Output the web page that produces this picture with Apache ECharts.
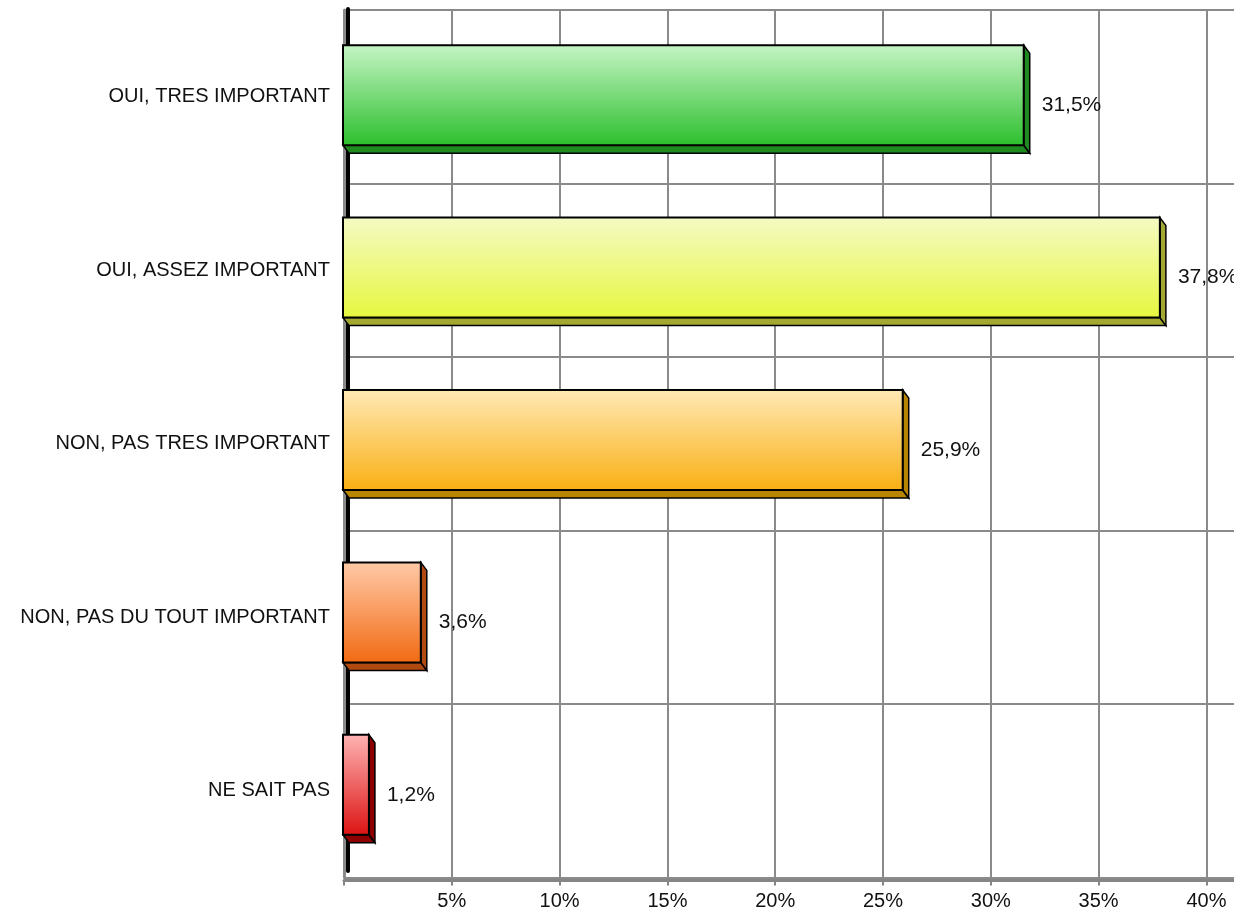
<!DOCTYPE html>
<html>
<head>
<meta charset="utf-8">
<script src="https://cdn.jsdelivr.net/npm/echarts@6/dist/echarts.min.js"></script>
<style>
html,body{margin:0;padding:0;background:#fff;}
#chart{width:1234px;height:916px;}
</style>
</head>
<body>
<div id="chart"></div>
<script>
const categories = ['OUI, TRES IMPORTANT', 'OUI, ASSEZ IMPORTANT', 'NON, PAS TRES IMPORTANT', 'NON, PAS DU TOUT IMPORTANT', 'NE SAIT PAS'];
const values = [31.5, 37.8, 25.9, 3.6, 1.2];
const tickStep = 5;

const frontTop = ['#c6f5c6', '#f5fac4', '#ffe9b6', '#ffcaa8', '#ffb4b4'];
const frontBottom = ['#2cbf2c', '#e6f73e', '#f9af12', '#f26a12', '#dc1212'];
const sideColors = ['#1f8a1f', '#a2a832', '#b88500', '#b04a10', '#8e0000'];

const FONT = 'Liberation Sans, Arial, sans-serif';
const chart = echarts.init(document.getElementById('chart'), null, {renderer: 'canvas'});

const fmt = v => v.toFixed(1).replace('.', ',') + '%';

const option = {
  animation: false,
  backgroundColor: '#ffffff',
  grid: [
    {left: 344, top: 10, width: 898, bottom: 38.5, containLabel: false, outerBoundsMode: 'none'},
    {left: 343, top: 9, width: 891, bottom: 45, containLabel: false, outerBoundsMode: 'none'}
  ],
  xAxis: [
    {
      gridIndex: 0, type: 'value', min: 0, max: 41.65, interval: tickStep,
      offset: 3,
      axisLine: {show: true, lineStyle: {color: '#858585', width: 3}},
      axisTick: {show: true, length: 5, lineStyle: {color: '#858585', width: 2}},
      splitLine: {show: true, lineStyle: {color: '#8a8a8a', width: 2}},
      axisLabel: {
        margin: 11, color: '#111', fontSize: 20, fontFamily: FONT,
        showMaxLabel: false,
        formatter: v => (v === 0 || Math.abs(v % tickStep) > 1e-6) ? '' : v + '%'
      }
    },
    {
      gridIndex: 1, type: 'value', min: 0, max: 41.23, show: false
    }
  ],
  yAxis: [
    {
      gridIndex: 0, type: 'category', data: categories, inverse: true,
      axisLine: {show: true, lineStyle: {color: '#8a8a8a', width: 3}},
      axisTick: {show: false},
      splitLine: {show: true, lineStyle: {color: '#8a8a8a', width: 2}},
      axisLabel: {margin: 14, color: '#111', fontSize: 20, fontFamily: FONT}
    },
    {
      gridIndex: 1, type: 'category', data: categories, inverse: true,
      offset: -5,
      axisLine: {show: true, lineStyle: {color: '#000', width: 4}},
      axisTick: {show: false},
      axisLabel: {show: false},
      splitLine: {show: false}
    }
  ],
  series: [{
    type: 'custom',
    xAxisIndex: 1,
    yAxisIndex: 1,
    encode: {x: 0, y: 1},
    data: values.map((v, i) => [v, i]),
    renderItem: function (params, api) {
      const val = api.value(0);
      const cat = api.value(1);
      const i = params.dataIndex;
      const p0 = api.coord([0, cat]);
      const p1 = api.coord([val, cat]);
      const band = api.size([0, 1])[1];
      const h = band * 0.58;
      const top = p1[1] - h / 2;
      const bottom = top + h;
      const x0 = p0[0], x1 = p1[0];
      const dx = 6, dy = 8;
      const side = sideColors[i];
      const border = {stroke: '#000', lineWidth: 1.5};
      return {
        type: 'group',
        children: [
          {
            type: 'polygon',
            shape: {points: [[x0, bottom], [x1, bottom], [x1 + dx, bottom + dy], [x0 + dx, bottom + dy]]},
            style: Object.assign({fill: side}, border)
          },
          {
            type: 'polygon',
            shape: {points: [[x1, top], [x1 + dx, top + dy], [x1 + dx, bottom + dy], [x1, bottom]]},
            style: Object.assign({fill: side}, border)
          },
          {
            type: 'rect',
            shape: {x: x0, y: top, width: x1 - x0, height: h},
            style: Object.assign({
              fill: new echarts.graphic.LinearGradient(0, 0, 0, 1, [
                {offset: 0, color: frontTop[i]},
                {offset: 1, color: frontBottom[i]}
              ])
            }, {stroke: '#000', lineWidth: 2})
          },
          {
            type: 'text',
            style: {
              text: fmt(val),
              x: x1 + dx + 12,
              y: p1[1] + 10,
              verticalAlign: 'middle',
              align: 'left',
              fill: '#111',
              font: '21px ' + FONT
            }
          }
        ]
      };
    }
  }]
};
chart.setOption(option);
</script>
</body>
</html>
